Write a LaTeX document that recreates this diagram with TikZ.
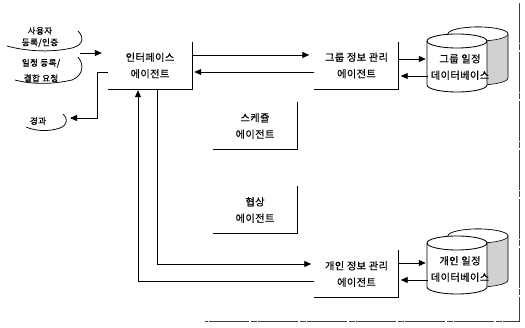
\documentclass[tikz,border=0pt]{standalone}
\usepackage{fontspec}
\newfontfamily\kr[LetterSpace=4,FakeBold=0.5]{Noto Sans CJK KR}
\usetikzlibrary{arrows.meta}
\newcommand\agentfont{\kr\fontsize{10.2}{16.5}\selectfont}
\newcommand\labfont{\kr\fontsize{8.6}{11.5}\selectfont}
\begin{document}
\begin{tikzpicture}[x=1pt,y=-1pt,
  ln/.style={line width=0.85pt},
  curl/.style={line width=0.75pt},
  arr/.style={line width=0.85pt,-{Triangle[length=7pt,width=6pt]}},
  agent/.style={font=\agentfont, align=center, inner sep=0pt, minimum width=84pt, minimum height=47pt},
  dbnode/.style={font=\agentfont, align=center, inner sep=0pt, minimum width=64pt, minimum height=50pt},
  lab/.style={font=\labfont, align=center, inner sep=0pt},
  dbback/.style={fill=black!18, draw=black, line width=0.6pt},
  dbfront/.style={fill=white, draw=black, line width=0.85pt},
  frame/.style={line width=0.7pt, black!75, dash pattern=on 40pt off 1.5pt on 6pt off 1.5pt},
  ]
\useasboundingbox (0,0) rectangle (525,328);

% ---- database cylinders (drawn first) ----
\foreach \dy in {0,202}{
  % back cylinder
  \path[dbback] (448,34+\dy) -- (448,78+\dy) arc[start angle=180,end angle=0,x radius=30,y radius=7]
     -- (508,34+\dy) arc[start angle=0,end angle=-180,x radius=30,y radius=7] -- cycle;
  \path[fill=white, draw=black, line width=0.6pt] (478,34+\dy) ellipse[x radius=30,y radius=7];
  % front cylinder
  \path[dbfront] (427,41+\dy) -- (427,85+\dy) arc[start angle=180,end angle=0,x radius=30,y radius=7]
     -- (487,41+\dy) arc[start angle=0,end angle=-180,x radius=30,y radius=7] -- cycle;
  \draw[line width=0.85pt] (427,41+\dy) arc[start angle=180,end angle=0,x radius=30,y radius=7];
}

% ---- nodes ----
\node[agent] (iface) at (150,65.5) {인터페이스\\에이전트};
\node[agent] (group) at (356.5,65.5) {그룹 정보 관리\\에이전트};
\node[agent] (sched) at (255,126) {스케쥴\\에이전트};
\node[agent] (nego)  at (255,210) {협상\\에이전트};
\node[agent] (pers)  at (356.5,274) {개인 정보 관리\\에이전트};
\node[dbnode] (gdb) at (460,67) {그룹 일정\\데이터베이스};
\node[dbnode] (pdb) at (460,269) {개인 일정\\데이터베이스};

\node[lab] (lab1) at (40,37) {사용자\\등록/인증};
\node[lab] (lab2) at (41,70.5) {일정 등록/\\[4pt]결합 요청};
\node[lab] (res)  at (38,121) {경과};

% L-shaped agent frames
\foreach \n in {iface,group,sched,nego,pers}
  \draw[ln] (\n.north east) -- (\n.south east) -- (\n.south west);

% curled label outlines
\draw[curl] (78,31) .. controls (84,37) and (84,45) .. (72,48) .. controls (50,53) and (25,51) .. (7,46);
\draw[curl] (78,57) .. controls (84,64) and (84,75) .. (72,80) .. controls (50,85) and (30,84) .. (15,80);
\draw[curl] (63,114) .. controls (68,118) and (68,125) .. (60,128) .. controls (48,132) and (35,131) .. (26,127);

% ---- connectors ----
\coordinate (inA) at (80,53);
\coordinate (resIn) at (70,118);
\draw[arr,shorten >=6pt] (inA) -- (inA -| iface.west);
\draw[arr] (iface.west |- 0,72) -- (97,72) -- (97,118) -- (resIn);

\draw[arr,shorten >=5pt] (iface.east |- 0,55) -- (group.west |- 0,55);
\draw[arr,shorten >=2pt] (group.west |- 0,72) -- (iface.east |- 0,72);

\draw[arr,shorten >=2pt] (group.east |- 0,59) -- (gdb.west |- 0,59);
\draw[arr,shorten >=2pt] (gdb.west |- 0,76) -- (group.east |- 0,76);
\draw[arr,shorten >=2pt] (pers.east |- 0,263) -- (pdb.west |- 0,263);
\draw[arr,shorten >=2pt] (pdb.west |- 0,280) -- (pers.east |- 0,280);

\draw[arr,shorten >=3pt] (iface.south -| 157,0) -- (157,264) -- (pers.west |- 0,264);
\draw[arr,shorten >=1pt] (pers.west |- 0,281) -- (138,281) -- (iface.south -| 138,0);

% ---- page frame ----
\draw[frame] (519,3) -- (519,321) -- (205,321);
\end{tikzpicture}
\end{document}
